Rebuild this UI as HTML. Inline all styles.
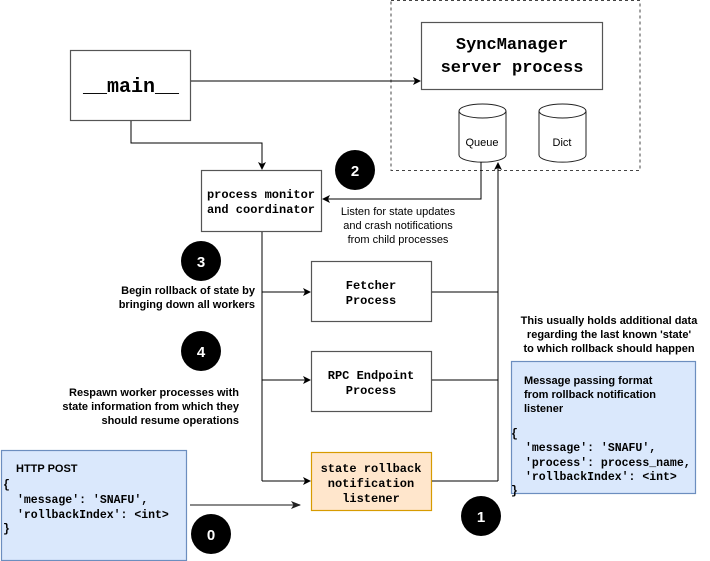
<!DOCTYPE html>
<html><head><meta charset="utf-8"><style>
html,body{margin:0;padding:0;background:#fff;}
svg{display:block;}
.s{font-family:"Liberation Sans",sans-serif;font-size:11px;fill:#000;}
.b{font-family:"Liberation Sans",sans-serif;font-size:11px;font-weight:bold;fill:#000;}
.m{font-family:"Liberation Mono",monospace;font-size:11.5px;font-weight:bold;fill:#000;}
.w{font-family:"Liberation Sans",sans-serif;font-size:15px;font-weight:bold;fill:#fff;}
</style></head><body>
<svg width="710" height="561" viewBox="0 0 710 561" xmlns="http://www.w3.org/2000/svg">
<defs>
<marker id="a" markerWidth="8" markerHeight="8" refX="7" refY="4" orient="auto" markerUnits="userSpaceOnUse">
<path d="M0,0 L8,4 L0,8 L2,4 Z" fill="#000"/></marker>
<marker id="g" markerWidth="10" markerHeight="10" refX="9" refY="5" orient="auto" markerUnits="userSpaceOnUse">
<path d="M0,1 L10,5 L0,9 L2.5,5 Z" fill="#222"/></marker>
</defs>
<rect x="391" y="0.5" width="249" height="170" fill="none" stroke="#444" stroke-dasharray="3,3"/>
<rect x="421.5" y="22.5" width="181" height="67" fill="#fff" stroke="#555" stroke-width="1.2"/>
<text x="512" y="49" text-anchor="middle" style="font-family:'Liberation Mono',monospace;font-size:17px;font-weight:bold">SyncManager</text>
<text x="512" y="72" text-anchor="middle" style="font-family:'Liberation Mono',monospace;font-size:17px;font-weight:bold">server process</text>
<rect x="70.5" y="50.5" width="120" height="70" fill="#fff" stroke="#555" stroke-width="1.2"/>
<text x="131" y="92" text-anchor="middle" style="font-family:'Liberation Mono',monospace;font-size:20px;font-weight:bold">__main__</text>
<line x1="191" y1="81" x2="420" y2="81" stroke="#000" marker-end="url(#a)"/>
<g fill="#fff" stroke="#222">
<path d="M459,111 L459,155 A23,7 0 0 0 506,155 L506,111"/>
<ellipse cx="482.5" cy="111" rx="23.5" ry="7"/>
<path d="M539,111 L539,155 A23,7 0 0 0 586,155 L586,111"/>
<ellipse cx="562.5" cy="111" rx="23.5" ry="7"/>
</g>
<text x="482" y="146" text-anchor="middle" class="s">Queue</text>
<text x="562" y="146" text-anchor="middle" class="s">Dict</text>
<polyline points="131,121 131,143 262,143 262,169" fill="none" stroke="#000" marker-end="url(#a)"/>
<rect x="201.5" y="170.5" width="120" height="61" fill="#fff" stroke="#555" stroke-width="1.2"/>
<text x="261" y="198" text-anchor="middle" class="m" style="font-size:12px">process monitor</text>
<text x="261" y="213" text-anchor="middle" class="m" style="font-size:12px">and coordinator</text>
<polyline points="481,162 481,199 323,199" fill="none" stroke="#000" marker-end="url(#a)"/>
<text x="398" y="215" text-anchor="middle" class="s">Listen for state updates</text>
<text x="398" y="229" text-anchor="middle" class="s">and crash notifications</text>
<text x="398" y="243" text-anchor="middle" class="s">from child processes</text>
<circle cx="355" cy="170" r="20" fill="#000"/><text x="355" y="176" text-anchor="middle" class="w">2</text>
<circle cx="201" cy="261" r="20" fill="#000"/><text x="201" y="267" text-anchor="middle" class="w">3</text>
<circle cx="201" cy="351" r="20" fill="#000"/><text x="201" y="357" text-anchor="middle" class="w">4</text>
<circle cx="481" cy="516" r="20" fill="#000"/><text x="481" y="522" text-anchor="middle" class="w">1</text>
<circle cx="211" cy="534" r="20" fill="#000"/><text x="211" y="540" text-anchor="middle" class="w">0</text>
<text x="255" y="294" text-anchor="end" class="b">Begin rollback of state by</text>
<text x="255" y="308" text-anchor="end" class="b">bringing down all workers</text>
<text x="239" y="396" text-anchor="end" class="b">Respawn worker processes with</text>
<text x="239" y="410" text-anchor="end" class="b">state information from which they</text>
<text x="239" y="424" text-anchor="end" class="b">should resume operations</text>
<polyline points="262,232 262,481" fill="none" stroke="#000"/>
<line x1="262" y1="292" x2="310" y2="292" stroke="#000" marker-end="url(#a)"/>
<line x1="262" y1="380" x2="310" y2="380" stroke="#000" marker-end="url(#a)"/>
<line x1="262" y1="481" x2="310" y2="481" stroke="#000" marker-end="url(#a)"/>
<rect x="311.5" y="261.5" width="120" height="60" fill="#fff" stroke="#555" stroke-width="1.2"/>
<text x="371" y="289" text-anchor="middle" class="m" style="font-size:12px">Fetcher</text>
<text x="371" y="304" text-anchor="middle" class="m" style="font-size:12px">Process</text>
<rect x="311.5" y="351.5" width="120" height="60" fill="#fff" stroke="#555" stroke-width="1.2"/>
<text x="371" y="379" text-anchor="middle" class="m" style="font-size:12px">RPC Endpoint</text>
<text x="371" y="394" text-anchor="middle" class="m" style="font-size:12px">Process</text>
<rect x="311.5" y="452.5" width="120" height="58" fill="#ffe6cc" stroke="#d79b00" stroke-width="1.2"/>
<text x="371" y="472" text-anchor="middle" class="m" style="font-size:12px">state rollback</text>
<text x="371" y="487" text-anchor="middle" class="m" style="font-size:12px">notification</text>
<text x="371" y="502" text-anchor="middle" class="m" style="font-size:12px">listener</text>
<line x1="432" y1="292" x2="498" y2="292" stroke="#000"/>
<line x1="432" y1="380" x2="498" y2="380" stroke="#000"/>
<line x1="432" y1="481" x2="498" y2="481" stroke="#000"/>
<line x1="498" y1="481" x2="498" y2="163" stroke="#000" marker-end="url(#a)"/>
<text x="609" y="324" text-anchor="middle" class="b">This usually holds additional data</text>
<text x="609" y="338" text-anchor="middle" class="b">regarding the last known 'state'</text>
<text x="609" y="352" text-anchor="middle" class="b">to which rollback should happen</text>
<rect x="511.5" y="361.5" width="184" height="132" fill="#dae8fc" stroke="#6c8ebf" stroke-width="1.2"/>
<text x="524" y="384" class="b">Message passing format</text>
<text x="524" y="398" class="b">from rollback notification</text>
<text x="524" y="412" class="b">listener</text>
<text x="511" y="437" class="m">{</text>
<text x="525" y="451" class="m">'message': 'SNAFU',</text>
<text x="525" y="466" class="m">'process': process_name,</text>
<text x="525" y="480" class="m">'rollbackIndex': &lt;int&gt;</text>
<text x="511" y="494" class="m">}</text>
<rect x="1.5" y="450.5" width="185" height="110" fill="#dae8fc" stroke="#6c8ebf" stroke-width="1.2"/>
<text x="16" y="472" class="b">HTTP POST</text>
<text x="3" y="488" class="m">{</text>
<text x="17" y="503" class="m">'message': 'SNAFU',</text>
<text x="17" y="518" class="m">'rollbackIndex': &lt;int&gt;</text>
<text x="3" y="532" class="m">}</text>
<line x1="190" y1="505" x2="300" y2="505" stroke="#444" stroke-width="1.3" marker-end="url(#g)"/>
</svg>
</body></html>
